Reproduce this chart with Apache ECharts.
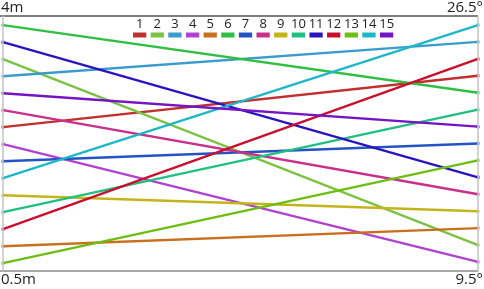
<!DOCTYPE html>
<html>
<head>
<meta charset="utf-8">
<script src="https://cdn.jsdelivr.net/npm/echarts@6/dist/echarts.min.js"></script>
<style>html,body{margin:0;padding:0;background:#fff;}#c{width:484px;height:289px;}</style>
</head>
<body>
<div id="c"></div>
<script>
// Series names (legend)
var names = ['1','2','3','4','5','6','7','8','9','10','11','12','13','14','15'];
// Line colours
var colors = ['#c0302f','#7cc242','#3a9ccc','#b042d0','#c8701e','#2fbf44','#2454c4','#c8308c','#c4b41c','#1fc082','#2a14c0','#c8102e','#6cbe10','#1fb6c8','#7414c4'];
// Left axis values (depth, m)
var depth = [2.5, 3.5, 3.25, 2.25, 0.75, 4.0, 2.0, 2.75, 1.5, 1.25, 3.75, 1.0, 0.5, 1.75, 3.0];
// Right axis values (angle, degrees)
var angle = [22.86, 10.71, 25.29, 9.5, 11.93, 21.64, 18.0, 14.36, 13.14, 20.43, 15.57, 24.07, 16.79, 26.5, 19.21];
// Axis end labels
var leftTop = '4m', leftBottom = '0.5m', rightTop = '26.5°', rightBottom = '9.5°';

var lMin = 0.385, lMax = 4.135, rMin = 8.85, rMax = 27.15;
var F = '"Open Sans", "Noto Sans", sans-serif';

var chart = echarts.init(document.getElementById('c'), null, {renderer: 'canvas'});

var series = [];
names.forEach(function (n, i) {
  series.push({
    type: 'parallel', name: n, parallelIndex: 0,
    lineStyle: {color: colors[i], width: 2.4, opacity: 1},
    emphasis: {disabled: true},
    inactiveOpacity: 1, activeOpacity: 1,
    data: [[depth[i], angle[i]]]
  });
});
series.push({
  type: 'scatter', xAxisIndex: 0, yAxisIndex: 0, symbolSize: 4, silent: true, z: 5,
  itemStyle: {opacity: 0.55},
  data: depth.map(function (v, i) { return {value: [0, v], itemStyle: {color: colors[i]}}; })
});
series.push({
  type: 'scatter', xAxisIndex: 0, yAxisIndex: 1, symbolSize: 4, silent: true, z: 5,
  itemStyle: {opacity: 0.55},
  data: angle.map(function (v, i) { return {value: [1, v], itemStyle: {color: colors[i]}}; })
});

var graphics = [
  {type: 'line', shape: {x1: 0, y1: 16, x2: 478, y2: 16}, style: {stroke: '#555', lineWidth: 1.5}, z: 10},
  {type: 'line', shape: {x1: 0, y1: 271, x2: 478, y2: 271}, style: {stroke: '#8a8a8a', lineWidth: 1.5}, z: 10},
  {type: 'text', left: 1, top: 0, style: {text: leftTop, font: '15px ' + F, fill: '#222'}},
  {type: 'text', left: 1, top: 272, style: {text: leftBottom, font: '15px ' + F, fill: '#222'}},
  {type: 'text', right: 1, top: 0, style: {text: rightTop, font: '15px ' + F, fill: '#222'}},
  {type: 'text', right: 1, top: 272, style: {text: rightBottom, font: '15px ' + F, fill: '#222'}}
];
names.forEach(function (n, i) {
  var x = 133 + i * 17.64;
  graphics.push({type: 'rect', shape: {x: x, y: 32.5, width: 13.3, height: 5}, style: {fill: colors[i]}, z: 20});
  graphics.push({type: 'text', x: x + 6.7, y: 31, style: {text: n, font: '13px ' + F, fill: '#222', align: 'center', verticalAlign: 'bottom'}, z: 20});
});

function noLabel() { return ''; }
var hiddenLabel = {show: false, formatter: noLabel, color: 'rgba(0,0,0,0)', showMinLabel: false, showMaxLabel: false};
var hiddenAxis = {
  axisLine: {lineStyle: {color: '#c4c4c4', width: 1.5}},
  axisTick: {show: false},
  axisLabel: hiddenLabel,
  splitLine: {show: false},
  name: '', nameTextStyle: {fontSize: 0}
};
var offAxis = {show: false, axisLabel: hiddenLabel, axisLine: {show: false}, splitLine: {show: false}, axisTick: {show: false}};

chart.setOption({
  animation: false,
  backgroundColor: '#fff',
  parallel: {
    left: 3, right: 6, top: 16, bottom: 18, layout: 'horizontal',
    parallelAxisDefault: hiddenAxis
  },
  parallelAxis: [
    Object.assign({dim: 0, min: lMin, max: lMax}, hiddenAxis),
    Object.assign({dim: 1, min: rMin, max: rMax}, hiddenAxis)
  ],
  grid: {left: 3, right: 6, top: 16, bottom: 18, containLabel: false, show: false},
  xAxis: Object.assign({type: 'value', min: 0, max: 1}, offAxis),
  yAxis: [
    Object.assign({type: 'value', min: lMin, max: lMax}, offAxis),
    Object.assign({type: 'value', min: rMin, max: rMax, position: 'right'}, offAxis)
  ],
  graphic: graphics,
  series: series
});
</script>
</body>
</html>
